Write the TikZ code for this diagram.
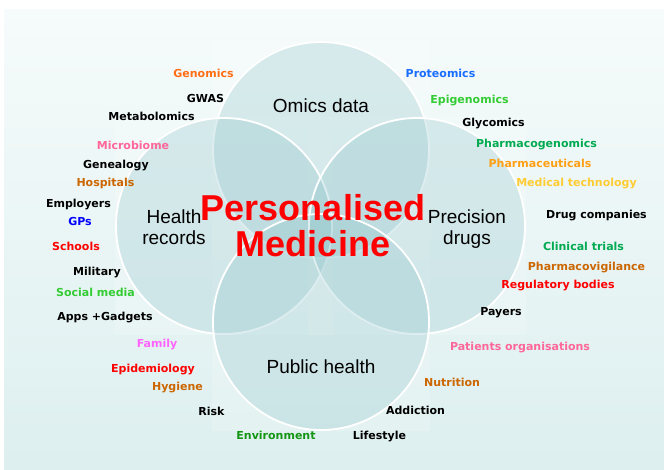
\documentclass[tikz,border=0pt]{standalone}
\usepackage{fontspec}
\setmainfont{DejaVu Sans}
\newfontfamily\arialfont{Liberation Sans}
\usetikzlibrary{backgrounds}

\definecolor{bgtop}{RGB}{246,251,251}
\definecolor{bgbottom}{RGB}{221,239,239}
\definecolor{ringfill}{RGB}{135,192,198}
\definecolor{cOrange}{RGB}{255,110,20}
\definecolor{cAmber}{RGB}{255,160,20}
\definecolor{cYellow}{RGB}{255,204,51}
\definecolor{cBrown}{RGB}{204,102,0}
\definecolor{cBlue}{RGB}{26,110,255}
\definecolor{cDeepBlue}{RGB}{0,0,255}
\definecolor{cLime}{RGB}{51,204,51}
\definecolor{cGreen}{RGB}{0,170,80}
\definecolor{cLeaf}{RGB}{20,150,20}
\definecolor{cPink}{RGB}{255,102,153}
\definecolor{cMagenta}{RGB}{255,100,255}
\definecolor{cRed}{RGB}{255,0,0}

\tikzset{
  tag/.style={font=\bfseries\fontsize{11}{13}\selectfont, inner sep=0pt, anchor=base},
  ring/.style={circle, minimum size=216pt, inner sep=0pt, draw=white, line width=1.8pt,
               fill=ringfill, fill opacity=0.27},
  ringtitle/.style={font=\arialfont\fontsize{19}{21}\selectfont, align=center, inner sep=0pt},
}

\begin{document}
\begin{tikzpicture}[x=1pt, y=-1pt]
    \useasboundingbox (0,0) rectangle (664,469);

    \node[ring] (omics) at (321,150) {};
    \node[ring] (health) at (224,226) {};
    \node[ring] (precision) at (417,226) {};
    \node[ring] (public) at (321,322) {};

    \begin{scope}[on background layer]
        \shade[top color=bgtop, bottom color=bgbottom] (4,9) rectangle (664,469);
        \foreach \r in {omics, health, precision, public}
            \fill[white, opacity=0.18] (\r.west |- \r.north) rectangle (\r.east |- \r.south);
    \end{scope}

    \node[ringtitle, anchor=base] (omicstitle) at (321,112) {Omics data};
    \node[ringtitle] (healthtitle) at (174,227) {Health\\records};
    \node[ringtitle] (precisiontitle) at (467,229) {Precision\\drugs};
    \node[ringtitle, anchor=base] (publictitle) at (321,373) {Public health};

    \node[font=\arialfont\bfseries\fontsize{36}{36}\selectfont, text=cRed, align=center,
          inner sep=0pt] (pm) at (313,226) {Personalised\\Medicine};

    % labels round the rings
    \foreach \name/\x/\y/\col/\txt in {
        genomics/203.5/77/cOrange/Genomics,
        gwas/205.5/102/black/GWAS,
        metabolomics/151.5/120/black/Metabolomics,
        microbiome/133/149/cPink/Microbiome,
        genealogy/116/168/black/Genealogy,
        hospitals/105.5/186/cBrown/Hospitals,
        employers/78.5/207/black/Employers,
        gps/80/225/cDeepBlue/GPs,
        schools/76/250/cRed/Schools,
        military/97/275/black/Military,
        socialmedia/95.5/296/cLime/Social media,
        apps/105/320/black/Apps +Gadgets,
        family/157/347/cMagenta/Family,
        epidemiology/153/372/cRed/Epidemiology,
        hygiene/177.5/390/cBrown/Hygiene,
        risk/211.5/415/black/Risk,
        environment/276/439/cLeaf/Environment,
        lifestyle/379.5/439/black/Lifestyle,
        addiction/415.5/414/black/Addiction,
        nutrition/452/386/cBrown/Nutrition,
        patients/520/350/cPink/Patients organisations,
        payers/501/315/black/Payers,
        regulatory/558/288/cRed/Regulatory bodies,
        vigilance/586.5/270/cBrown/Pharmacovigilance,
        trials/583.5/250/cGreen/Clinical trials,
        drugcos/596.5/218/black/Drug companies,
        medtech/576.5/186/cYellow/Medical technology,
        pharmaceuticals/540/167/cAmber/Pharmaceuticals,
        pgx/536.5/147/cGreen/Pharmacogenomics,
        glycomics/493.5/126/black/Glycomics,
        epigenomics/469.5/103/cLime/Epigenomics,
        proteomics/440.5/77/cBlue/Proteomics}
        \node[tag, text=\col] (\name) at (\x,\y) {\txt};
\end{tikzpicture}
\end{document}
